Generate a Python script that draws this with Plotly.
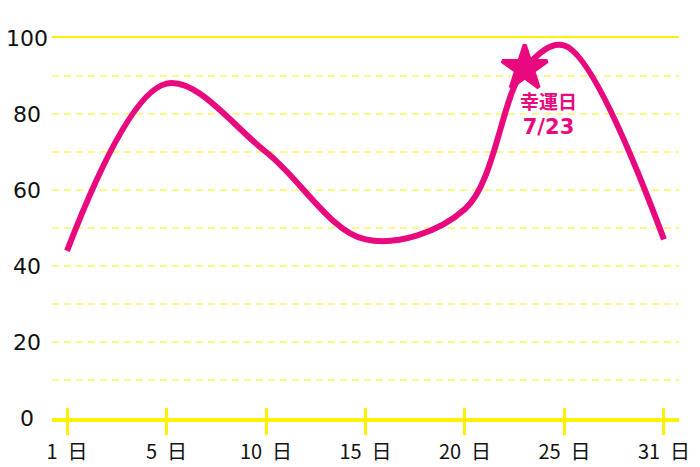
import plotly.graph_objects as go

# ---- data ----
days = [1, 5, 10, 15, 20, 25, 31]
day_labels = ["1\u2002日", "5\u2002日", "10\u2002日", "15\u2002日", "20\u2002日", "25\u2002日", "31\u2002日"]
values = [44, 88, 70, 47, 55, 98, 47]
lucky_day = 23
lucky_value = 92
lucky_title = "幸運日"
lucky_date = "7/23"
y_ticks = [0, 20, 40, 60, 80, 100]
y_grid = [0, 10, 20, 30, 40, 50, 60, 70, 80, 90, 100]

PINK = "#E9097E"
YELLOW = "#FFF200"
GRID = "#FFF78A"
FONT = "DejaVu Sans, Noto Sans CJK JP"
CJK = "Noto Sans CJK JP"

# evenly spaced positions for the day ticks
pos = list(range(len(days)))


def day_to_pos(d):
    for i in range(len(days) - 1):
        if days[i] <= d <= days[i + 1]:
            return i + (d - days[i]) / (days[i + 1] - days[i])
    return None


lucky_pos = day_to_pos(lucky_day)

# curve passes through the lucky point
pts = sorted(list(zip(pos, values)) + [(lucky_pos, lucky_value)])
line_x = [p[0] for p in pts]
line_y = [p[1] for p in pts]

fig = go.Figure()
fig.add_trace(go.Scatter(
    x=line_x, y=line_y, mode="lines",
    line=dict(color=PINK, width=6, shape="spline", smoothing=1.0),
    hoverinfo="skip", showlegend=False,
))
fig.add_trace(go.Scatter(
    x=[lucky_pos], y=[lucky_value], mode="markers",
    marker=dict(symbol="star", size=34, color=PINK,
                line=dict(width=4, color=PINK)),
    showlegend=False, hoverinfo="skip",
))

fig.add_annotation(
    x=lucky_pos, y=lucky_value,
    text=f"{lucky_title}<br><span style='font-size:21px'>{lucky_date}</span>",
    showarrow=False,
    xshift=24, yshift=-47, yanchor="middle", xanchor="center",
    font=dict(family=FONT, size=19, color=PINK, weight="bold"),
)

for v in y_ticks:
    fig.add_annotation(
        x=-0.04, xref="paper", y=v, yref="y", text=str(v), showarrow=False,
        xanchor="center", yanchor="middle",
        font=dict(family=FONT, size=22, color="#111111"),
    )

rng = [-0.151, len(days) - 1 + 0.151]

fig.update_layout(
    width=700, height=467,
    margin=dict(l=52, r=21, t=38, b=49),
    paper_bgcolor="white", plot_bgcolor="white",
    font=dict(family=FONT, color="#111111"),
    xaxis=dict(
        range=rng, tickvals=pos, ticktext=day_labels,
        showgrid=False, zeroline=False,
        showline=True, linecolor=YELLOW, linewidth=4,
        ticks="outside", ticklen=13, tickwidth=3, tickcolor=YELLOW,
        tickfont=dict(family=CJK, size=20, color="#111111"),
        automargin=False, fixedrange=True,
    ),
    xaxis2=dict(
        overlaying="x", matches="x", anchor="y", side="bottom",
        tickvals=pos, showticklabels=False, showgrid=False, zeroline=False,
        ticks="inside", ticklen=10, tickwidth=3, tickcolor=YELLOW,
        showline=False, automargin=False,
    ),
    xaxis3=dict(
        overlaying="x", matches="x", anchor="y", side="top",
        showticklabels=False, showgrid=False, zeroline=False, ticks="",
        showline=True, linecolor=YELLOW, linewidth=2, automargin=False,
    ),
    yaxis=dict(
        range=[0, 100], tickvals=y_grid, showticklabels=False,
        showgrid=True, gridcolor=GRID, gridwidth=2, griddash="7px,5px",
        zeroline=False, showline=False, ticks="",
        automargin=False, fixedrange=True,
    ),
)

# invisible traces to activate overlay axes
fig.add_trace(go.Scatter(x=[pos[0]], y=[0], xaxis="x2", mode="markers",
                         marker=dict(opacity=0), showlegend=False, hoverinfo="skip"))
fig.add_trace(go.Scatter(x=[pos[0]], y=[0], xaxis="x3", mode="markers",
                         marker=dict(opacity=0), showlegend=False, hoverinfo="skip"))

fig.write_html("out.html", config={"displayModeBar": False},
               post_script="document.body.style.margin='0';")
